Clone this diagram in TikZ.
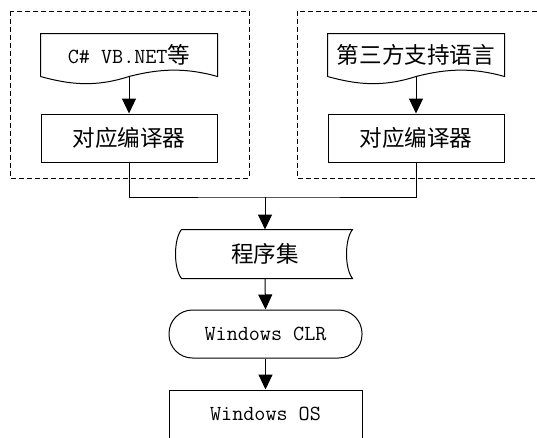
\documentclass[tikz,border=0pt]{standalone}
\usepackage{fontspec}
\newfontfamily\cjk{Noto Sans CJK SC}[Scale=1.05]
\usepackage{tikz}
\usetikzlibrary{arrows.meta}

\tikzset{
  plainbox/.style={draw, minimum width=176pt, minimum height=48pt, inner sep=0pt},
  wavebox/.style={minimum width=176pt, minimum height=42pt, inner sep=0pt},
  termbox/.style={draw, rounded corners=23.5pt, minimum width=193pt, minimum height=48pt, inner sep=0pt},
  flow/.style={-{Triangle[length=15pt,width=14pt]}},
  group/.style={dash pattern=on 5pt off 3pt}
}
\newcommand{\wavedoc}[1]{%
  \draw (#1.south west) -- (#1.north west) -- (#1.north east) -- (#1.south east)
    .. controls +(-32,-9) and +(31,-8) .. (#1.south)
    .. controls +(-34,11) and +(29,8) .. (#1.south west);}
\newcommand{\storedata}[1]{%
  \draw ([xshift=5pt]#1.north west) -- ([xshift=-1pt]#1.north east)
    .. controls +(-8,10) and +(-8,-10) .. ([xshift=-1pt]#1.south east)
    -- ([xshift=5pt]#1.south west)
    .. controls +(-8,-10) and +(-8,10) .. ([xshift=5pt]#1.north west);}

\begin{document}
\begin{tikzpicture}[x=1pt, y=-1pt, line width=1pt, font=\fontsize{21.5}{25}\selectfont\ttfamily]
  \useasboundingbox (0,0) rectangle (537,437);
  \clip (0,0) rectangle (537,437);
  \draw[group] (10,11) rectangle (249,178);
  \draw[group] (297,11) rectangle (570,178);

  \node[wavebox] (src1) at (129,55) {\raisebox{3pt}{C\# VB.NET{\cjk 等}}};
  \wavedoc{src1}
  \node[plainbox] (comp1) at (129,138) {\cjk 对应编译器};
  \draw[flow] (src1.south) -- (comp1.north);

  \node[wavebox] (src2) at (416,55) {\raisebox{3pt}{\cjk 第三方支持语言}};
  \wavedoc{src2}
  \node[plainbox] (comp2) at (416,138) {\cjk 对应编译器};
  \draw[flow] (src2.south) -- (comp2.north);

  \coordinate (join) at (265,197);
  \draw (comp1.south) |- (join) -| (comp2.south);

  \node[minimum width=176pt, minimum height=48pt, inner sep=0pt] (asm) at (265,254) {\cjk 程序集};
  \storedata{asm}
  \draw[flow] (join) -- (asm.north);

  \node[termbox] (clr) at (265.5,334) {Windows CLR};
  \draw[flow] (asm.south) -- (clr.north);

  \node[plainbox, minimum width=193pt] (os) at (265.5,414) {Windows OS};
  \draw[flow] (clr.south) -- (os.north);
\end{tikzpicture}
\end{document}
